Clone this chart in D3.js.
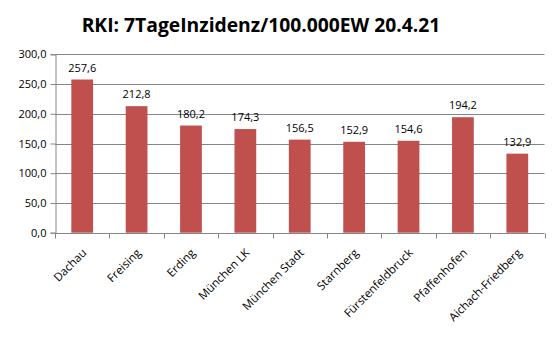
<!DOCTYPE html>
<html>
<head>
<meta charset="utf-8">
<script src="https://cdn.jsdelivr.net/npm/d3@7"></script>
<style>
  html, body { margin: 0; padding: 0; background: #fff; }
  svg { display: block; }
</style>
</head>
<body>
<svg id="chart" width="557" height="340"></svg>
<script>
// 7-day incidence per 100,000 inhabitants, by district
const districts = ["Dachau", "Freising", "Erding", "München LK", "München Stadt",
                   "Starnberg", "Fürstenfeldbruck", "Pfaffenhofen", "Aichach-Friedberg"];
const incidence = [257.6, 212.8, 180.2, 174.3, 156.5, 152.9, 154.6, 194.2, 132.9];
const yTicks = [0, 50, 100, 150, 200, 250, 300];
const title = "RKI: 7TageInzidenz/100.000EW 20.4.21";

const svg = d3.select("#chart");
const margin = { left: 55, right: 12.5, top: 54.3, bottom: 107.3 };
const W = 557, H = 340;
const fmt = v => v.toFixed(1).replace(".", ",");
const font = "'Open Sans', sans-serif";

const x = d3.scaleBand()
  .domain(districts)
  .range([margin.left, W - margin.right])
  .paddingInner(0.6)
  .paddingOuter(0.3);

const y = d3.scaleLinear()
  .domain([0, 300])
  .range([H - margin.bottom, margin.top]);

// title
svg.append("text")
  .attr("x", 261)
  .attr("y", 31.5)
  .attr("text-anchor", "middle")
  .attr("font-family", font)
  .attr("font-weight", "bold")
  .attr("font-size", 19.3)
  .attr("fill", "#000")
  .text(title);

// horizontal gridlines
svg.append("g")
  .selectAll("line")
  .data(yTicks.filter(t => t > 0))
  .join("line")
  .attr("x1", margin.left)
  .attr("x2", W - margin.right)
  .attr("y1", d => Math.round(y(d)) + 0.5)
  .attr("y2", d => Math.round(y(d)) + 0.5)
  .attr("stroke", "#868686")
  .attr("stroke-width", 1);

// y axis
const yAxis = svg.append("g")
  .attr("transform", `translate(${margin.left + 0.5},0)`)
  .call(d3.axisLeft(y).tickValues(yTicks).tickFormat(fmt).tickSize(5).tickPadding(4));
yAxis.select(".domain").attr("stroke", "#868686");
yAxis.selectAll(".tick line").attr("stroke", "#868686");
yAxis.selectAll(".tick text")
  .attr("font-family", font)
  .attr("font-size", 11)
  .attr("fill", "#000");

// x axis with ticks at category boundaries
const xBase = Math.round(y(0)) + 0.5;
svg.append("line")
  .attr("x1", margin.left)
  .attr("x2", W - margin.right)
  .attr("y1", xBase)
  .attr("y2", xBase)
  .attr("stroke", "#868686");
const bounds = d3.range(districts.length + 1).map(i => margin.left + i * (W - margin.left - margin.right) / districts.length);
svg.append("g")
  .selectAll("line")
  .data(bounds)
  .join("line")
  .attr("x1", d => Math.round(d) + 0.5)
  .attr("x2", d => Math.round(d) + 0.5)
  .attr("y1", xBase)
  .attr("y2", xBase + 5)
  .attr("stroke", "#868686");

// bars
svg.append("g")
  .selectAll("rect")
  .data(districts)
  .join("rect")
  .attr("x", d => x(d))
  .attr("width", x.bandwidth())
  .attr("y", (d, i) => y(incidence[i]))
  .attr("height", (d, i) => y(0) - y(incidence[i]))
  .attr("fill", "#C0504D");

// value labels
svg.append("g")
  .selectAll("text")
  .data(districts)
  .join("text")
  .attr("x", d => x(d) + x.bandwidth() / 2)
  .attr("y", (d, i) => y(incidence[i]) - 8)
  .attr("text-anchor", "middle")
  .attr("font-family", font)
  .attr("font-size", 11)
  .attr("fill", "#000")
  .text((d, i) => fmt(incidence[i]));

// category labels, rotated
svg.append("g")
  .selectAll("text")
  .data(districts)
  .join("text")
  .attr("transform", d => `translate(${x(d) + x.bandwidth() / 2 + 5},${xBase + 20}) rotate(-45)`)
  .attr("text-anchor", "end")
  .attr("font-family", font)
  .attr("font-size", 11.5)
  .attr("fill", "#000")
  .text(d => d);
</script>
</body>
</html>
